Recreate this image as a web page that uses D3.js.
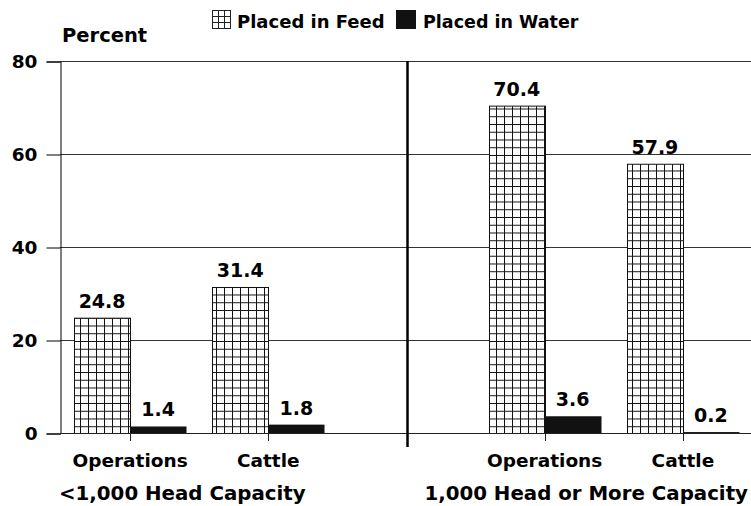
<!DOCTYPE html>
<html lang="en">
<head>
	<meta charset="UTF-8">
	<title>Placed in Feed / Water</title>
	<script src="https://cdn.jsdelivr.net/npm/d3@7"></script>
	<style>
		body { margin: 0; background: #fff; }
		svg text { font-family: "DejaVu Sans", Arial, sans-serif; font-weight: bold; fill: #000; }
	</style>
</head>
<body>
	<div id="vis"></div>

	<script>
		var width = 751;
		var height = 506;

		// data
		var groups = ["<1,000 Head Capacity", "1,000 Head or More Capacity"];
		var categories = ["Operations", "Cattle"];
		var slots = ["lo-Operations", "lo-Cattle", "gap", "hi-Operations", "hi-Cattle"];
		var feedValues = [24.8, 31.4, 70.4, 57.9];
		var waterValues = [1.4, 1.8, 3.6, 0.2];
		var yTicks = [0, 20, 40, 60, 80];

		var barSlots = ["lo-Operations", "lo-Cattle", "hi-Operations", "hi-Cattle"];

		var svg = d3.select("#vis").append("svg")
			.attr("width", width)
			.attr("height", height);

		// patterns
		var defs = svg.append("defs");
		var grid = defs.append("pattern")
			.attr("id", "grid")
			.attr("patternUnits", "userSpaceOnUse")
			.attr("width", 8).attr("height", 7.75);
		grid.append("rect").attr("width", 8).attr("height", 7.75).attr("fill", "#fff");
		grid.append("path")
			.attr("d", "M0.5,0V7.75M0,0.5H8")
			.attr("stroke", "#111").attr("stroke-width", 1).attr("fill", "none");

		var gridSmall = defs.append("pattern")
			.attr("id", "gridSmall")
			.attr("patternUnits", "userSpaceOnUse")
			.attr("x", 212).attr("y", 10)
			.attr("width", 6).attr("height", 6);
		gridSmall.append("rect").attr("width", 6).attr("height", 6).attr("fill", "#fff");
		gridSmall.append("path")
			.attr("d", "M0.5,0V6M0,0.5H6")
			.attr("stroke", "#222").attr("stroke-width", 1).attr("fill", "none");

		// scales
		var x = d3.scaleBand()
			.domain(slots)
			.range([61, 752]);

		var y = d3.scaleLinear()
			.domain([0, 80])
			.range([433, 61]);

		var barW = 56;
		function center(s) { return x(s) + x.bandwidth() / 2; }

		// gridlines
		svg.append("g")
			.selectAll("line")
			.data(yTicks.filter(function(d) { return d > 0; }))
			.join("line")
			.attr("x1", 60).attr("x2", width)
			.attr("y1", function(d) { return y(d) + 0.5; })
			.attr("y2", function(d) { return y(d) + 0.5; })
			.attr("stroke", "#333").attr("stroke-width", 1);

		// y axis
		var yAxis = svg.append("g")
			.attr("transform", "translate(60.5,0.5)")
			.call(d3.axisLeft(y).tickValues(yTicks).tickSize(14).tickPadding(9));
		yAxis.select(".domain").attr("stroke", "#000");
		yAxis.selectAll(".tick line").attr("stroke", "#000");
		yAxis.selectAll(".tick text")
			.attr("fill", "#000")
			.style("font-size", "18.5px")
			.style("font-weight", "bold")
			.style("font-family", "'DejaVu Sans', Arial, sans-serif");

		// feed bars
		svg.append("g")
			.selectAll("rect")
			.data(feedValues)
			.join("rect")
			.attr("x", function(d, i) { return Math.round(center(barSlots[i]) - barW) + 0.5; })
			.attr("y", function(d) { return y(d) + 0.5; })
			.attr("width", barW)
			.attr("height", function(d) { return y(0) - y(d); })
			.attr("fill", "url(#grid)")
			.attr("stroke", "#111").attr("stroke-width", 1);

		// water bars
		svg.append("g")
			.selectAll("rect")
			.data(waterValues)
			.join("rect")
			.attr("x", function(d, i) { return Math.round(center(barSlots[i])) + 0.5; })
			.attr("y", function(d) { return y(d); })
			.attr("width", barW)
			.attr("height", function(d) { return Math.max(1.5, y(0) - y(d)); })
			.attr("fill", "#111");

		// baseline
		svg.append("line")
			.attr("x1", 60).attr("x2", width)
			.attr("y1", y(0) + 0.5).attr("y2", y(0) + 0.5)
			.attr("stroke", "#222");

		// category ticks below baseline
		svg.append("g")
			.selectAll("line")
			.data(barSlots)
			.join("line")
			.attr("x1", function(d) { return Math.round(center(d)) + 0.5; })
			.attr("x2", function(d) { return Math.round(center(d)) + 0.5; })
			.attr("y1", y(0)).attr("y2", y(0) + 8)
			.attr("stroke", "#222");

		// divider between the two groups
		svg.append("line")
			.attr("x1", center("gap") + 1).attr("x2", center("gap") + 1)
			.attr("y1", y(80)).attr("y2", 447)
			.attr("stroke", "#000").attr("stroke-width", 2.5);

		// value labels
		svg.append("g")
			.selectAll("text")
			.data(feedValues)
			.join("text")
			.attr("x", function(d, i) { return center(barSlots[i]) - barW / 2; })
			.attr("y", function(d) { return y(d) - 10; })
			.attr("text-anchor", "middle")
			.style("font-size", "19px")
			.text(function(d) { return d.toFixed(1); });

		svg.append("g")
			.selectAll("text")
			.data(waterValues)
			.join("text")
			.attr("x", function(d, i) { return center(barSlots[i]) + barW / 2; })
			.attr("y", function(d) { return y(d) - 10; })
			.attr("text-anchor", "middle")
			.style("font-size", "19px")
			.text(function(d) { return d.toFixed(1); });

		// category labels
		svg.append("g")
			.selectAll("text")
			.data(barSlots)
			.join("text")
			.attr("x", function(d) { return center(d); })
			.attr("y", 467)
			.attr("text-anchor", "middle")
			.style("font-size", "18.5px")
			.text(function(d) { return d.split("-")[1]; });

		// group labels: first starts at the axis, second ends at the right edge
		svg.append("g")
			.selectAll("text")
			.data(groups)
			.join("text")
			.attr("x", function(d, i) { return i === 0 ? 59 : width - 3; })
			.attr("y", 500)
			.attr("text-anchor", function(d, i) { return i === 0 ? "start" : "end"; })
			.style("font-size", "19.8px")
			.text(function(d) { return d; });

		// axis title
		svg.append("text")
			.attr("x", 62).attr("y", 42)
			.style("font-size", "19.5px")
			.text("Percent");

		// legend
		var legend = svg.append("g");
		legend.append("rect")
			.attr("x", 212.5).attr("y", 10.5).attr("width", 18).attr("height", 18)
			.attr("fill", "url(#gridSmall)").attr("stroke", "#222");
		legend.append("text")
			.attr("x", 237).attr("y", 28)
			.style("font-size", "18px")
			.text("Placed in Feed");
		legend.append("rect")
			.attr("x", 396).attr("y", 10).attr("width", 20).attr("height", 19)
			.attr("fill", "#111");
		legend.append("text")
			.attr("x", 423).attr("y", 28)
			.style("font-size", "17.5px")
			.text("Placed in Water");
	</script>
</body>
</html>
